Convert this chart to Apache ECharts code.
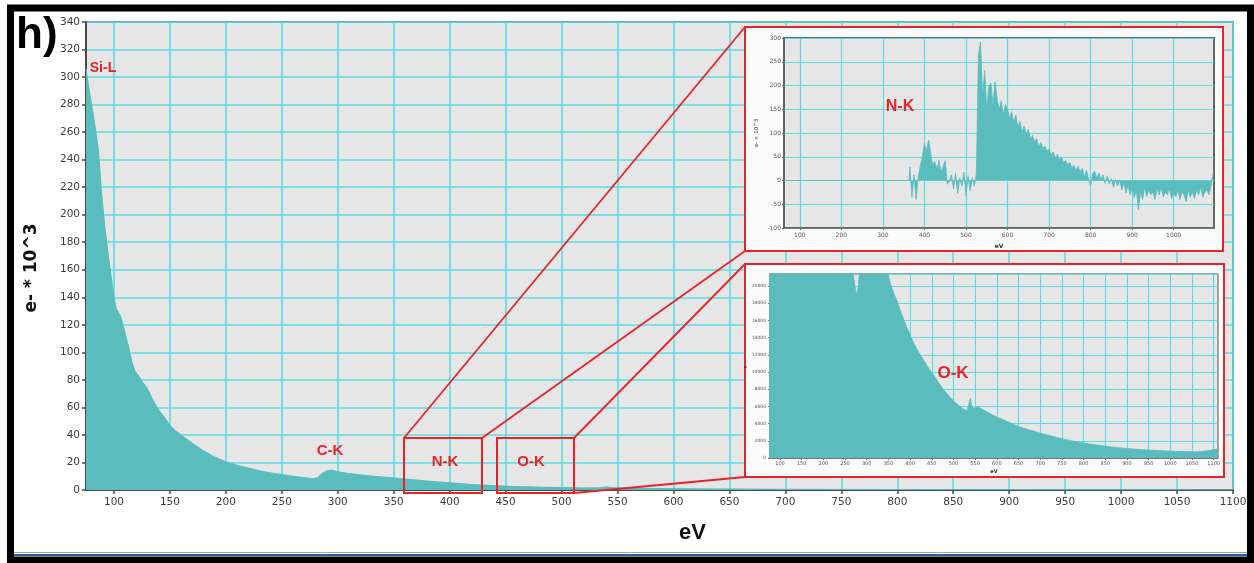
<!DOCTYPE html>
<html>
<head>
<meta charset="utf-8">
<script src="https://cdn.jsdelivr.net/npm/echarts@6/dist/echarts.min.js"></script>
<style>
html,body{margin:0;padding:0;background:#fff;}
#c{width:1254px;height:563px;}
</style>
</head>
<body>
<div id="c"></div>
<script>
// ---- Full EELS spectrum (e- x 10^3 vs energy loss, eV) ----
const mainEv = [75, 77, 80, 83, 86, 89, 92, 95, 98, 100, 102, 104, 106, 108, 110, 113, 116, 119, 122, 125,
  128, 131, 135, 140, 145, 150, 155, 160, 170, 180, 190, 200, 210, 220, 230, 240, 250, 260, 270, 278,
  282, 286, 290, 294, 298, 302, 310, 320, 330, 340, 350, 360, 380, 400, 420, 440, 460, 480, 500, 520,
  535, 540, 545, 560, 580, 600, 630, 660, 700, 750, 800, 900, 1000, 1100];
const mainCounts = [306, 295, 280, 265, 248, 215, 190, 170, 152, 140, 132, 129, 126, 120, 114, 104, 93, 86, 83, 79,
  76, 72, 65, 58, 53, 47, 43, 40, 34, 28.5, 24, 20.5, 18, 16, 14, 12.5, 11.2, 10, 9, 8.2,
  9, 12, 13.8, 14.5, 13.8, 13, 12, 11, 10.2, 9.5, 8.8, 8, 6.5, 5.2, 4, 3.2, 2.5, 2.1, 1.8, 1.5,
  1.6, 2.3, 1.8, 1.3, 1.1, 1, 0.8, 0.7, 0.5, 0.4, 0.35, 0.3, 0.25, 0.2];
const mainXTicks = [100, 150, 200, 250, 300, 350, 400, 450, 500, 550, 600, 650, 700, 750, 800, 850, 900, 950, 1000, 1050, 1100];

// ---- Background-subtracted edge region (N-K / O-K edges) ----
const nkEv = [62, 363,
  365, 370, 375, 380, 385, 390, 395, 400, 405, 410, 415, 420, 425, 430, 435, 440, 445, 450,
  455, 460, 465, 470, 475, 480, 485, 490, 495, 500, 505, 510, 515, 520, 525, 530, 535, 540,
  545, 550, 555, 560, 565, 570, 575, 580, 585, 590, 595, 600, 605, 610, 615, 620, 625, 630,
  635, 640, 645, 650, 655, 660, 665, 670, 675, 680, 685, 690, 695, 700, 705, 710, 715, 720,
  725, 730, 735, 740, 745, 750, 755, 760, 765, 770, 775, 780, 785, 790, 795, 800, 805, 810,
  815, 820, 825, 830, 835, 840, 845, 850, 855, 860, 865, 870, 875, 880, 885, 890, 895, 900,
  905, 910, 915, 920, 925, 930, 935, 940, 945, 950, 955, 960, 965, 970, 975, 980, 985, 990,
  995, 1000, 1005, 1010, 1015, 1020, 1025, 1030, 1035, 1040, 1045, 1050, 1055, 1060, 1065, 1070, 1075, 1080,
  1085, 1090, 1095];
const nkCounts = [0, 0,
  28, -35, 12, -40, 8, 30, 50, 78, 62, 85, 58, 32, 40, 24, 42, 18, 30, 42,
  -8, -2, 12, -18, 16, -28, 6, -12, 18, -32, 10, -22, 6, -12, 14, 265, 292, 175,
  232, 150, 198, 205, 160, 208, 172, 150, 168, 138, 160, 148, 132, 145, 122, 138, 112, 125,
  102, 115, 98, 108, 88, 95, 82, 88, 72, 80, 68, 72, 62, 66, 55, 60, 48, 55,
  44, 50, 38, 42, 33, 38, 26, 32, 22, 30, 18, 26, 8, 22, 4, -10, 15, 20,
  4, 16, 2, 12, -6, 10, -8, 4, -15, 2, -12, 0, -20, -5, -26, -10, -30, -14,
  -36, -20, -62, -24, -40, -14, -34, -20, -30, -24, -40, -18, -30, -14, -35, -24, -30, -18,
  -38, -28, -34, -20, -40, -24, -30, -45, -20, -35, -24, -38, -20, -30, -14, -35, -24, -20,
  -30, -10, 16];
const nkXTicks = [100, 200, 300, 400, 500, 600, 700, 800, 900, 1000];

// ---- Raw counts, zoomed to show the O-K edge ----
const okEv = [75, 120, 170, 220, 255, 262, 266, 270, 274, 277, 280, 283, 287, 300, 320, 335, 345, 350, 355, 362,
  370, 380, 392, 400, 410, 420, 431, 442, 454, 465, 475, 485, 495, 505, 516, 524, 531, 535, 539, 542,
  546, 550, 556, 562, 570, 577, 590, 605, 624, 650, 675, 700, 725, 750, 777, 800, 825, 854, 880, 905,
  931, 960, 985, 1008, 1035, 1062, 1080, 1095, 1108];
const okCounts = [60000, 48000, 38000, 31000, 26500, 24000, 22600, 20900, 19700, 18900, 19800, 21300, 23500, 26000, 25000, 23300, 21900, 21200, 20200, 19200,
  18300, 16800, 15300, 14300, 13200, 12300, 11400, 10500, 9700, 8800, 8100, 7500, 6900, 6400, 5950, 5650, 5500, 6200, 6950, 6100,
  5750, 5850, 5950, 5800, 5550, 5380, 5000, 4650, 4250, 3650, 3250, 2900, 2550, 2250, 1950, 1750, 1550, 1350, 1200, 1080,
  980, 900, 830, 790, 750, 720, 800, 920, 1040];
const okXTicks = [100, 150, 200, 250, 300, 350, 400, 450, 500, 550, 600, 650, 700, 750, 800, 850, 900, 950, 1000, 1050, 1100];

const TEAL = '#5bbcbd';
const CYAN = '#5cdde0';
const RED = '#e5242a';
const AXIS = '#4a4a4a';
const PLOT_BG = '#e6e6e6';
const NARROW = "'Liberation Sans Narrow', 'Liberation Sans', sans-serif";
const plain = v => String(v);

function pairs(xs, ys) { return xs.map((x, i) => [x, ys[i]]); }

function insetAxisLabel(size) {
  return { fontFamily: 'DejaVu Sans', fontSize: size, color: '#555', formatter: plain };
}

const chart = echarts.init(document.getElementById('c'), null, { renderer: 'canvas' });

const option = {
  animation: false,
  backgroundColor: '#ffffff',
  grid: [
    { left: 86, right: 21, top: 22, bottom: 73, show: true, backgroundColor: PLOT_BG,
      borderColor: AXIS, borderWidth: 1.5, z: 0 },
    { left: 784, right: 40, top: 38, bottom: 335, show: true, backgroundColor: PLOT_BG,
      borderColor: '#666', borderWidth: 2, z: 10 },
    { left: 770, right: 36, top: 274, bottom: 105, show: true, backgroundColor: PLOT_BG,
      borderColor: '#888', borderWidth: 1.5, z: 10 }
  ],
  xAxis: [
    { gridIndex: 0, type: 'value', min: 75, max: 1100, z: 0,
      name: 'eV', nameLocation: 'middle', nameGap: 32,
      nameTextStyle: { fontFamily: NARROW, fontWeight: 'bold', fontSize: 22, color: '#111', padding: [0, 0, 0, 66] },
      axisLine: { show: true, onZero: false, lineStyle: { color: AXIS, width: 2 } },
      axisTick: { show: true, customValues: mainXTicks, length: 4, lineStyle: { color: AXIS, width: 1.5 } },
      axisLabel: { customValues: mainXTicks, margin: 7, fontFamily: 'DejaVu Sans', fontSize: 10.5, color: '#3d3d3d', formatter: plain },
      splitLine: { show: true, lineStyle: { color: CYAN, width: 1.6 } } },
    { gridIndex: 1, type: 'value', min: 62, max: 1097, z: 10,
      name: 'eV', nameLocation: 'middle', nameGap: 15,
      nameTextStyle: { fontFamily: 'DejaVu Sans', fontWeight: 'bold', fontSize: 6, color: '#333' },
      axisLine: { show: true, onZero: false, lineStyle: { color: '#666', width: 1.5 } },
      axisTick: { show: true, customValues: nkXTicks, length: 2, lineStyle: { color: '#666' } },
      axisLabel: Object.assign({ customValues: nkXTicks, margin: 4 }, insetAxisLabel(6)),
      splitLine: { show: true, lineStyle: { color: CYAN, width: 1.2 } } },
    { gridIndex: 2, type: 'value', min: 77, max: 1110, z: 10,
      name: 'eV', nameLocation: 'middle', nameGap: 11,
      nameTextStyle: { fontFamily: 'DejaVu Sans', fontWeight: 'bold', fontSize: 5, color: '#333' },
      axisLine: { show: true, onZero: false, lineStyle: { color: '#777', width: 1 } },
      axisTick: { show: true, customValues: okXTicks, length: 2, lineStyle: { color: '#777' } },
      axisLabel: Object.assign({ customValues: okXTicks, margin: 3 }, insetAxisLabel(5)),
      splitLine: { show: true, lineStyle: { color: CYAN, width: 1.1 } } }
  ],
  yAxis: [
    { gridIndex: 0, type: 'value', min: 0, max: 340, interval: 20, z: 0,
      axisLine: { show: true, lineStyle: { color: AXIS, width: 2 } },
      axisTick: { show: true, length: 4, lineStyle: { color: AXIS, width: 1.5 } },
      axisLabel: { margin: 6, fontFamily: 'DejaVu Sans', fontSize: 10.5, color: '#3d3d3d', formatter: plain },
      splitLine: { show: true, lineStyle: { color: CYAN, width: 1.6 } } },
    { gridIndex: 1, type: 'value', min: -100, max: 300, interval: 50, z: 10,
      name: 'e- \u00d7 10^3', nameLocation: 'middle', nameGap: 24, nameRotate: 90,
      nameTextStyle: { fontFamily: 'DejaVu Sans', fontSize: 5.5, color: '#333' },
      axisLine: { show: true, lineStyle: { color: '#666', width: 1.5 } },
      axisTick: { show: true, length: 2, lineStyle: { color: '#666' } },
      axisLabel: Object.assign({ margin: 3 }, insetAxisLabel(6)),
      splitLine: { show: true, lineStyle: { color: CYAN, width: 1.2 } } },
    { gridIndex: 2, type: 'value', min: 0, max: 21400, interval: 2000, z: 10,
      name: 'e-', nameLocation: 'middle', nameGap: 15, nameRotate: 90,
      nameTextStyle: { fontFamily: 'DejaVu Sans', fontSize: 5, color: '#333' },
      axisLine: { show: true, lineStyle: { color: '#777', width: 1 } },
      axisTick: { show: true, length: 2, lineStyle: { color: '#777' } },
      axisLabel: Object.assign({ margin: 4, showMaxLabel: false }, insetAxisLabel(4.5)),
      splitLine: { show: true, lineStyle: { color: CYAN, width: 1.1 } } }
  ],
  series: [
    { type: 'line', xAxisIndex: 0, yAxisIndex: 0, z: 2, showSymbol: false, silent: true,
      data: pairs(mainEv, mainCounts),
      lineStyle: { color: TEAL, width: 1 },
      areaStyle: { color: TEAL, opacity: 1 } },
    { type: 'line', xAxisIndex: 1, yAxisIndex: 1, z: 12, showSymbol: false, silent: true,
      data: pairs(nkEv, nkCounts),
      lineStyle: { color: TEAL, width: 0.8 },
      areaStyle: { color: TEAL, opacity: 1, origin: 'auto' },
      markLine: { silent: true, symbol: 'none', label: { show: false },
        lineStyle: { color: '#8a8a8a', width: 1, type: 'solid' },
        data: [{ yAxis: 0 }] } },
    { type: 'line', xAxisIndex: 2, yAxisIndex: 2, z: 12, showSymbol: false, silent: true,
      data: pairs(okEv, okCounts),
      lineStyle: { color: TEAL, width: 0.8 },
      areaStyle: { color: TEAL, opacity: 1 } }
  ],
  graphic: [
    // white panels behind the two inset plots, framed in red
    { type: 'rect', z: 5, shape: { x: 745, y: 27, width: 478, height: 224 },
      style: { fill: '#fbfbfb', stroke: RED, lineWidth: 2 } },
    { type: 'rect', z: 5, shape: { x: 745, y: 264, width: 479, height: 213 },
      style: { fill: '#fbfbfb', stroke: RED, lineWidth: 2 } },
    // zoom boxes on the main spectrum
    { type: 'rect', z: 6, shape: { x: 404, y: 438, width: 78, height: 55 },
      style: { fill: null, stroke: RED, lineWidth: 2 } },
    { type: 'rect', z: 6, shape: { x: 497, y: 438, width: 77, height: 55 },
      style: { fill: null, stroke: RED, lineWidth: 2 } },
    // connector lines from the boxes to the insets
    { type: 'line', z: 6, shape: { x1: 404, y1: 438, x2: 745, y2: 27 }, style: { stroke: RED, lineWidth: 1.8 } },
    { type: 'line', z: 6, shape: { x1: 482, y1: 438, x2: 745, y2: 251 }, style: { stroke: RED, lineWidth: 1.8 } },
    { type: 'line', z: 6, shape: { x1: 574, y1: 438, x2: 745, y2: 264 }, style: { stroke: RED, lineWidth: 1.8 } },
    { type: 'line', z: 6, shape: { x1: 574, y1: 493, x2: 745, y2: 477 }, style: { stroke: RED, lineWidth: 1.8 } },
    // edge labels
    { type: 'text', z: 7, x: 103, y: 68, style: { text: 'Si-L', fill: RED, font: "bold 14px " + NARROW, textAlign: 'center', textVerticalAlign: 'middle' } },
    { type: 'text', z: 7, x: 330, y: 451, style: { text: 'C-K', fill: RED, font: "bold 15px " + NARROW, textAlign: 'center', textVerticalAlign: 'middle' } },
    { type: 'text', z: 7, x: 445, y: 462, style: { text: 'N-K', fill: RED, font: "bold 15px " + NARROW, textAlign: 'center', textVerticalAlign: 'middle' } },
    { type: 'text', z: 7, x: 531, y: 462, style: { text: 'O-K', fill: RED, font: "bold 15px " + NARROW, textAlign: 'center', textVerticalAlign: 'middle' } },
    { type: 'text', z: 20, x: 900, y: 107, style: { text: 'N-K', fill: RED, font: "bold 16px " + NARROW, textAlign: 'center', textVerticalAlign: 'middle' } },
    { type: 'text', z: 20, x: 953, y: 373, style: { text: 'O-K', fill: RED, font: "bold 17px " + NARROW, textAlign: 'center', textVerticalAlign: 'middle' } },
    // y-axis title of the main spectrum
    { type: 'text', z: 7, x: 32, y: 268, rotation: Math.PI / 2,
      style: { text: 'e- * 10^3', fill: '#111', font: "bold 17px 'DejaVu Sans'", textAlign: 'center', textVerticalAlign: 'middle' } },
    // panel letter
    { type: 'text', z: 7, x: 16, y: 36, style: { text: 'h)', fill: '#000', font: "bold 44px " + NARROW, textAlign: 'left', textVerticalAlign: 'middle' } },
    // bottom rule and outer frame
    { type: 'line', z: 7, shape: { x1: 14, y1: 552.5, x2: 1247, y2: 552.5 }, style: { stroke: '#86a6cc', lineWidth: 1 } },
    { type: 'line', z: 7, shape: { x1: 14, y1: 555, x2: 1247, y2: 555 }, style: { stroke: '#30609a', lineWidth: 2 } },
    { type: 'rect', z: 30, shape: { x: 10.5, y: 8, width: 1240, height: 552 },
      style: { fill: null, stroke: '#000', lineWidth: 7 } }
  ]
};

chart.setOption(option);
</script>
</body>
</html>
